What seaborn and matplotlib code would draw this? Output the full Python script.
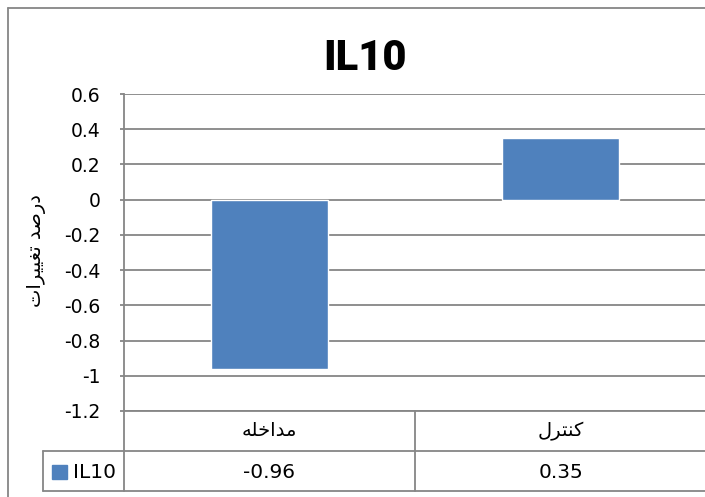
import numpy as np
import pandas as pd
import matplotlib
matplotlib.use('Agg')
import matplotlib.pyplot as plt
import matplotlib.transforms as mtransforms
from matplotlib.lines import Line2D
from matplotlib.patches import Rectangle
import seaborn as sns

title = 'IL10'
series_name = 'IL10'
y_label = 'درصد تغییرات'
categories = ['مداخله', 'کنترل']
values = [-0.96, 0.35]
value_labels = ['-0.96', '0.35']
y_ticks = [-1.2, -1, -0.8, -0.6, -0.4, -0.2, 0, 0.2, 0.4, 0.6]
y_tick_labels = ['-1.2', '-1', '-0.8', '-0.6', '-0.4', '-0.2', '0', '0.2', '0.4', '0.6']

BLUE = '#4F81BD'
GRAY = '#868686'

# matplotlib does no arabic shaping, so pick the presentation forms by hand
# (isolated, final, initial, medial); two-form letters only join to the right
FORMS = {
    'ا': ('\uFE8D', '\uFE8E'),
    'د': ('\uFEA9', '\uFEAA'),
    'ر': ('\uFEAD', '\uFEAE'),
    'ت': ('\uFE95', '\uFE96', '\uFE97', '\uFE98'),
    'خ': ('\uFEA5', '\uFEA6', '\uFEA7', '\uFEA8'),
    'ص': ('\uFEB9', '\uFEBA', '\uFEBB', '\uFEBC'),
    'غ': ('\uFECD', '\uFECE', '\uFECF', '\uFED0'),
    'ل': ('\uFEDD', '\uFEDE', '\uFEDF', '\uFEE0'),
    'م': ('\uFEE1', '\uFEE2', '\uFEE3', '\uFEE4'),
    'ن': ('\uFEE5', '\uFEE6', '\uFEE7', '\uFEE8'),
    'ه': ('\uFEE9', '\uFEEA', '\uFEEB', '\uFEEC'),
    'ک': ('\uFB8E', '\uFB8F', '\uFB90', '\uFB91'),
    'ی': ('\uFBFC', '\uFBFD', '\uFBFE', '\uFBFF'),
}


def shape(text):
    out = []
    for i, ch in enumerate(text):
        f = FORMS.get(ch)
        if f is None:
            out.append(ch)
            continue
        prev = text[i - 1] if i > 0 else ''
        nxt = text[i + 1] if i + 1 < len(text) else ''
        join_prev = len(FORMS.get(prev, ())) == 4
        join_next = len(f) == 4 and nxt in FORMS
        if join_prev and join_next:
            k = 3
        elif join_prev:
            k = 1
        elif join_next:
            k = 2
        else:
            k = 0
        out.append(f[k])
    return ''.join(reversed(out))


sns.set_style('white')
plt.rcParams['font.family'] = ['DejaVu Sans']
plt.rcParams['text.color'] = 'black'

W, H = 705, 497
fig = plt.figure(figsize=(W / 100, H / 100), dpi=100)


def fx(x):
    return x / W


def fy(y):
    return 1 - y / H


def hline(x0, x1, y, lw=1.3):
    fig.add_artist(Line2D([fx(x0), fx(x1)], [fy(y), fy(y)], color=GRAY, lw=lw))


def vline(x, y0, y1, lw=1.3):
    fig.add_artist(Line2D([fx(x), fx(x)], [fy(y0), fy(y1)], color=GRAY, lw=lw))


ax = fig.add_axes([fx(124), fy(411), fx(582), 317 / H])

df = pd.DataFrame({'group': categories, 'value': values})
sns.barplot(data=df, x='group', y='value', color=BLUE, saturation=1,
            width=0.4, ax=ax)

ax.set_xlim(-0.5, 1.5)
ax.set_ylim(-1.2, 0.6)
ax.set_yticks(y_ticks)
ax.set_yticklabels(y_tick_labels, fontsize=13.5)
ax.set_xticks([])
ax.set_xlabel('')
ax.set_ylabel('')
ax.yaxis.grid(True, color=GRAY, lw=1.3)
ax.set_axisbelow(True)
ax.tick_params(axis='y', length=3, width=1.3, color=GRAY, labelcolor='black',
               pad=14, direction='out', left=True)
for s in ['top', 'right']:
    ax.spines[s].set_visible(False)
for s in ['left', 'bottom']:
    ax.spines[s].set_color(GRAY)
    ax.spines[s].set_linewidth(1.3)

# title and y label
fig.text(fx(365), fy(58), title, fontsize=30, fontweight=900,
         family=['Roboto', 'DejaVu Sans'], ha='center', va='center')
fig.text(fx(37), fy(251), shape(y_label), rotation=90, fontsize=14,
         ha='center', va='center')

# data table below the plot
trans = mtransforms.blended_transform_factory(ax.transData, fig.transFigure)
for i, (cat, lab) in enumerate(zip(categories, value_labels)):
    ax.text(i, fy(431), shape(cat), transform=trans, fontsize=14,
            ha='center', va='center', clip_on=False)
    ax.text(i, fy(472), lab, transform=trans, fontsize=14.5,
            ha='center', va='center', clip_on=False)

vline(124, 411, 491)
vline(415, 411, 491)
vline(43, 451, 491)
hline(43, 706, 451)
hline(43, 706, 491)

fig.add_artist(Rectangle((fx(52), fy(479)), fx(14.5), 14.5 / H, color=BLUE))
fig.text(fx(73), fy(472), series_name, fontsize=14.5, ha='left', va='center')

# outer chart border
hline(8, 706, 8)
vline(8, 8, 497)

fig.savefig('out.png', dpi=100)
